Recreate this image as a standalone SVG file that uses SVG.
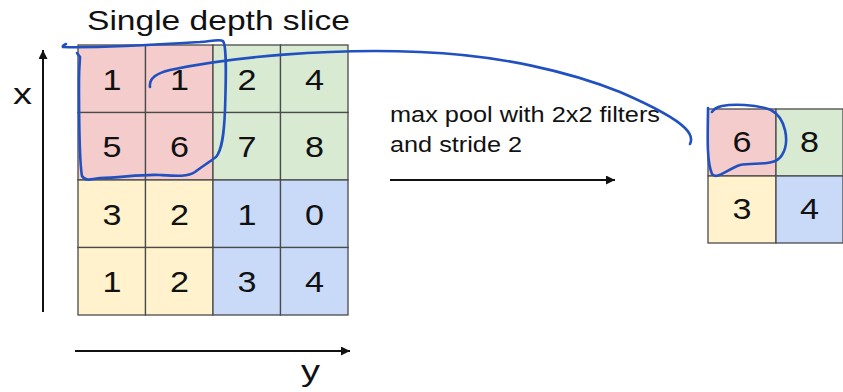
<svg xmlns="http://www.w3.org/2000/svg" width="843" height="392" viewBox="0 0 843 392">
<style>
.cell{stroke:#4a4a4a;stroke-width:1.3}
.r{fill:#f4cccc}.g{fill:#d9ead3}.yl{fill:#fff2cc}.b{fill:#c9daf8}
.d{font-family:"Liberation Sans",Arial,sans-serif;font-size:30px;fill:#111;text-anchor:middle}
.t{font-family:"Liberation Sans",Arial,sans-serif;fill:#111}
.ax{stroke:#111;stroke-width:2;fill:none}
.ink{stroke:#2150c0;stroke-width:2.6;fill:none;stroke-linecap:round;stroke-linejoin:round}
</style>
<defs>
<marker id="ah" viewBox="0 0 10 10" refX="10" refY="5" markerWidth="14" markerHeight="9" markerUnits="userSpaceOnUse" orient="auto">
<path d="M0,0 L10,5 L0,10 z" fill="#111"/>
</marker>
</defs>
<rect width="843" height="392" fill="#fff"/>

<text class="t" x="87" y="30" font-size="28.5" textLength="263" lengthAdjust="spacingAndGlyphs">Single depth slice</text>

<g id="input-grid">
<rect class="cell r" x="78" y="45" width="67.5" height="67.5"/>
<rect class="cell r" x="145.5" y="45" width="67.5" height="67.5"/>
<rect class="cell g" x="213" y="45" width="67.5" height="67.5"/>
<rect class="cell g" x="280.5" y="45" width="67.5" height="67.5"/>
<rect class="cell r" x="78" y="112.5" width="67.5" height="67.5"/>
<rect class="cell r" x="145.5" y="112.5" width="67.5" height="67.5"/>
<rect class="cell g" x="213" y="112.5" width="67.5" height="67.5"/>
<rect class="cell g" x="280.5" y="112.5" width="67.5" height="67.5"/>
<rect class="cell yl" x="78" y="180" width="67.5" height="67.5"/>
<rect class="cell yl" x="145.5" y="180" width="67.5" height="67.5"/>
<rect class="cell b" x="213" y="180" width="67.5" height="67.5"/>
<rect class="cell b" x="280.5" y="180" width="67.5" height="67.5"/>
<rect class="cell yl" x="78" y="247.5" width="67.5" height="67.5"/>
<rect class="cell yl" x="145.5" y="247.5" width="67.5" height="67.5"/>
<rect class="cell b" x="213" y="247.5" width="67.5" height="67.5"/>
<rect class="cell b" x="280.5" y="247.5" width="67.5" height="67.5"/>
<text class="d" x="112" y="90" textLength="19" lengthAdjust="spacingAndGlyphs">1</text>
<text class="d" x="179.5" y="90" textLength="19" lengthAdjust="spacingAndGlyphs">1</text>
<text class="d" x="247" y="90" textLength="19" lengthAdjust="spacingAndGlyphs">2</text>
<text class="d" x="314.5" y="90" textLength="19" lengthAdjust="spacingAndGlyphs">4</text>
<text class="d" x="112" y="157" textLength="19" lengthAdjust="spacingAndGlyphs">5</text>
<text class="d" x="179.5" y="157" textLength="19" lengthAdjust="spacingAndGlyphs">6</text>
<text class="d" x="247" y="157" textLength="19" lengthAdjust="spacingAndGlyphs">7</text>
<text class="d" x="314.5" y="157" textLength="19" lengthAdjust="spacingAndGlyphs">8</text>
<text class="d" x="112" y="224.5" textLength="19" lengthAdjust="spacingAndGlyphs">3</text>
<text class="d" x="179.5" y="224.5" textLength="19" lengthAdjust="spacingAndGlyphs">2</text>
<text class="d" x="247" y="224.5" textLength="19" lengthAdjust="spacingAndGlyphs">1</text>
<text class="d" x="314.5" y="224.5" textLength="19" lengthAdjust="spacingAndGlyphs">0</text>
<text class="d" x="112" y="292" textLength="19" lengthAdjust="spacingAndGlyphs">1</text>
<text class="d" x="179.5" y="292" textLength="19" lengthAdjust="spacingAndGlyphs">2</text>
<text class="d" x="247" y="292" textLength="19" lengthAdjust="spacingAndGlyphs">3</text>
<text class="d" x="314.5" y="292" textLength="19" lengthAdjust="spacingAndGlyphs">4</text>
</g>

<g id="output-grid">
<rect class="cell r" x="708" y="109" width="68" height="67"/>
<rect class="cell g" x="776" y="109" width="67" height="67"/>
<rect class="cell yl" x="708" y="176" width="68" height="67"/>
<rect class="cell b" x="776" y="176" width="67" height="67"/>
<text class="d" x="742" y="152" textLength="19" lengthAdjust="spacingAndGlyphs">6</text>
<text class="d" x="809.5" y="152" textLength="19" lengthAdjust="spacingAndGlyphs">8</text>
<text class="d" x="742" y="219" textLength="19" lengthAdjust="spacingAndGlyphs">3</text>
<text class="d" x="809.5" y="219" textLength="19" lengthAdjust="spacingAndGlyphs">4</text>
</g>

<g id="labels">
<text class="t" x="13" y="104" font-size="30" textLength="19" lengthAdjust="spacingAndGlyphs">x</text>
<text class="t" x="301" y="381" font-size="30" textLength="19" lengthAdjust="spacingAndGlyphs">y</text>
<text class="t" x="390" y="122" font-size="22" textLength="270" lengthAdjust="spacingAndGlyphs">max pool with 2x2 filters</text>
<text class="t" x="390" y="152" font-size="22" textLength="132" lengthAdjust="spacingAndGlyphs">and stride 2</text>
</g>

<g id="connectors">
<line class="ax" x1="43" y1="312" x2="43" y2="50" marker-end="url(#ah)"/>
<line class="ax" x1="75" y1="351" x2="350" y2="351" marker-end="url(#ah)"/>
<line class="ax" x1="390" y1="180" x2="615" y2="180" marker-end="url(#ah)"/>
</g>

<g id="annotations">
<path class="ink" d="M66,44 C64,45 62,46 63,47 C90,48 150,45 200,42 C212,41 220,39 223,41 C227,46 226,80 225,110 C224,135 222,150 216,157 C208,163 200,168 195,172 C188,177 176,176 160,175 C140,174 120,178 100,178 C92,179 86,182 82,176 C79,160 79,120 79,80 C79,68 80,60 80,57 L77,53"/>
<path class="ink" d="M150,87 C149,80 153,74 170,70 C230,57 330,48 420,52 C500,55 570,72 620,92 C650,105 675,118 685,128 C691,134 692,140 690,144"/>
<path class="ink" d="M708,108 C708,130 706,160 712,174 C717,180 726,170 740,165 C755,162 775,167 782,155 C790,142 786,118 771,110 C756,104 732,104 722,106 C717,107 713,110 712,112"/>
</g>
</svg>
